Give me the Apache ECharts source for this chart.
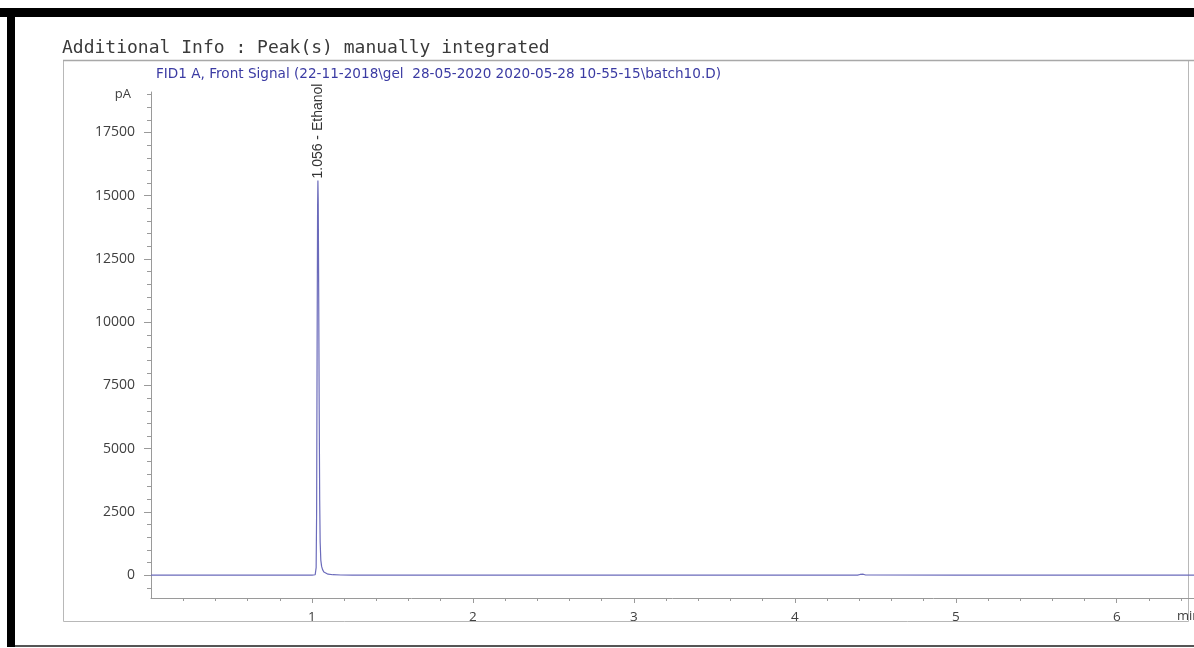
<!DOCTYPE html>
<html><head><meta charset="utf-8">
<script src="https://cdn.jsdelivr.net/npm/echarts@6/dist/echarts.min.js"></script>
<style>html,body{margin:0;padding:0;background:#fff}#c{width:1194px;height:648px}</style>
</head><body><div id="c"></div>
<script>
const titleText = 'Additional Info : Peak(s) manually integrated';
const signalTitle = 'FID1 A, Front Signal (22-11-2018\\gel  28-05-2020 2020-05-28 10-55-15\\batch10.D)';
const yUnit = 'pA';
const xUnit = 'min';

// retention time (min) and detector signal (pA)
const times  = [0, 0.5, 1.0, 1.020, 1.026, 1.029, 1.032, 1.035, 1.037, 1.039, 1.042, 1.045, 1.048, 1.051, 1.055, 1.060, 1.066, 1.074, 1.085, 1.100, 1.130, 1.180, 1.250, 2.0, 3.0, 4.0, 4.390, 4.405, 4.415, 4.425, 4.440, 5.0, 6.0, 6.48];
const signal = [2, 2, 3, 20, 300, 2500, 9000, 14500, 15600, 14800, 11000, 6500, 3000, 1300, 600, 350, 220, 130, 70, 40, 20, 10, 5, 3, 3, 3, 5, 30, 80, 40, 10, 4, 4, 4];

const peakRetention = ['1.056'];
const peakNames = ['Ethanol'];

const xMajorTicks = [1, 2, 3, 4, 5, 6];
const xMinorTicks = [0.2, 0.4, 0.6, 0.8, 1.2, 1.4, 1.6, 1.8, 2.2, 2.4, 2.6, 2.8, 3.2, 3.4, 3.6, 3.8, 4.2, 4.4, 4.6, 4.8, 5.2, 5.4, 5.6, 5.8, 6.2, 6.4];
const yMajorTicks = [0, 2500, 5000, 7500, 10000, 12500, 15000, 17500];
const yMinorTicks = [-500, 500, 1000, 1500, 2000, 3000, 3500, 4000, 4500, 5500, 6000, 6500, 7000, 8000, 8500, 9000, 9500, 10500, 11000, 11500, 12000, 13000, 13500, 14000, 14500, 15500, 16000, 16500, 17000, 18000, 18500, 19000];

const chart = echarts.init(document.getElementById('c'), null, {renderer: 'canvas'});
const axisGray = '#9a9a9a';
const labelColor = '#404040';
const lineColor = '#6b6bbb';

const seriesData = times.map((t, i) => [t, signal[i]]);
const plain = v => String(v);

const option = {
  backgroundColor: '#fff',
  animation: false,
  title: [
    {text: titleText, left: 57, top: 34, textStyle: {fontFamily: 'DejaVu Sans Mono', fontSize: 18, fontWeight: 'normal', color: '#3a3a3a'}},
    {text: signalTitle, left: 151, top: 62, textStyle: {fontFamily: 'DejaVu Sans', fontSize: 13.6, fontWeight: 'normal', color: '#3b3ba3'}}
  ],
  grid: {left: 151, right: 0, top: 92, bottom: 50, containLabel: false},
  xAxis: [
    {type: 'value', min: 0, max: 6.48, position: 'bottom',
     axisLine: {show: true, onZero: false, lineStyle: {color: axisGray, width: 1}},
     axisTick: {show: true, customValues: xMajorTicks, length: 5, lineStyle: {color: axisGray}},
     axisLabel: {show: true, customValues: xMajorTicks, margin: 12, color: labelColor, fontFamily: 'Open Sans', fontSize: 13.5, formatter: plain},
     splitLine: {show: false}},
    {type: 'value', min: 0, max: 6.48, position: 'bottom',
     axisLine: {show: false, onZero: false},
     axisTick: {show: true, customValues: xMinorTicks, length: 3, lineStyle: {color: axisGray}},
     axisLabel: {show: false},
     splitLine: {show: false}}
  ],
  yAxis: [
    {type: 'value', min: -900, max: 19100, position: 'left',
     axisLine: {show: true, onZero: false, lineStyle: {color: axisGray, width: 1}},
     axisTick: {show: true, customValues: yMajorTicks, length: 7, lineStyle: {color: axisGray}},
     axisLabel: {show: true, customValues: yMajorTicks, margin: 16, color: labelColor, fontFamily: 'Open Sans', fontSize: 14, formatter: plain},
     splitLine: {show: false}},
    {type: 'value', min: -900, max: 19100, position: 'left', offset: 0,
     axisLine: {show: false, onZero: false},
     axisTick: {show: true, customValues: yMinorTicks, length: 4, lineStyle: {color: axisGray}},
     axisLabel: {show: false},
     splitLine: {show: false}}
  ],
  series: [{
    type: 'line', xAxisIndex: 0, yAxisIndex: 0,
    data: seriesData, showSymbol: false, symbol: 'none',
    lineStyle: {color: lineColor, width: 1.2},
    z: 5
  }],
  graphic: []
};
chart.setOption(option);

// decorations placed through the chart's own scales
let apexIdx = 0;
signal.forEach((v, i) => { if (v > signal[apexIdx]) apexIdx = i; });
const apexPx = chart.convertToPixel({xAxisIndex: 0, yAxisIndex: 0}, [times[apexIdx], signal[apexIdx]]);
const unitPx = chart.convertToPixel({xAxisIndex: 0, yAxisIndex: 0}, [0, 19000]);
const xEndPx = chart.convertToPixel({xAxisIndex: 0, yAxisIndex: 0}, [6.48, -900]);

chart.setOption({
  graphic: [
    // outer page frame
    {type: 'rect', shape: {x: 0, y: 8, width: 1194, height: 9}, style: {fill: '#000'}, silent: true},
    {type: 'rect', shape: {x: 7, y: 8, width: 8, height: 639}, style: {fill: '#000'}, silent: true},
    {type: 'rect', shape: {x: 15, y: 645, width: 1179, height: 2}, style: {fill: '#555'}, silent: true},
    // plot frame
    {type: 'rect', shape: {x: 63.5, y: 60.5, width: 1125, height: 561}, style: {fill: 'none', stroke: '#b8b8b8', lineWidth: 1}, silent: true},
    {type: 'line', shape: {x1: 63, y1: 60.5, x2: 1194, y2: 60.5}, style: {stroke: '#a8a8a8', lineWidth: 1.5}, silent: true},
    // unit labels
    {type: 'text', x: unitPx[0] - 20, y: unitPx[1], style: {text: yUnit, fill: labelColor, font: '13px "Open Sans"', align: 'right', verticalAlign: 'middle'}, silent: true},
    {type: 'text', x: 1177, y: xEndPx[1] + 18, style: {text: xUnit, fill: labelColor, font: '13px "Open Sans"', align: 'left', verticalAlign: 'middle'}, silent: true},
    // peak label
    {type: 'text', x: apexPx[0], y: apexPx[1] - 2, rotation: Math.PI / 2,
     style: {text: peakRetention[0] + ' - ' + peakNames[0], fill: '#333', font: '14px "Liberation Sans"', align: 'left', verticalAlign: 'middle'}, silent: true, z: 10}
  ]
});
</script>
</body></html>
